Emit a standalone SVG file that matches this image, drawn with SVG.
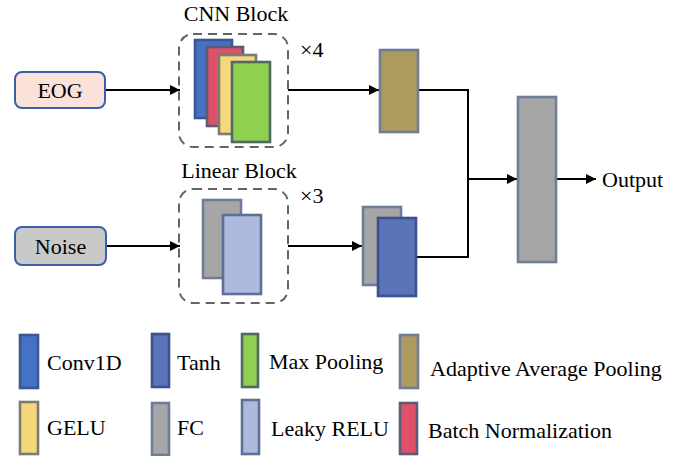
<svg xmlns="http://www.w3.org/2000/svg" width="694" height="456" viewBox="0 0 694 456">
<style>
text{font-family:"Liberation Serif","Times New Roman",serif;font-size:22px;fill:#000}
.blk{stroke:#6f7d9a;stroke-width:2.6}
.dash{fill:none;stroke:#646464;stroke-width:2;stroke-dasharray:9 6}
.ln{fill:none;stroke:#000;stroke-width:2}
.in{fill:#fae2db;stroke:#3a5ea8;stroke-width:2}
.conv{fill:#4472c4;stroke:#3e5590}
.bn{fill:#e05068;stroke:#5d5a7a}
.gelu{fill:#f6d77a;stroke:#7a7a78}
.mp{fill:#90d050;stroke:#4f6a66}
.aap{fill:#ad9a5e;stroke:#6f7d9a}
.fc{fill:#a6a6a6;stroke:#6f7d9a}
.tanh{fill:#5a74ba;stroke:#3c528e}
.lr{fill:#aebadd;stroke:#5f6f96}
</style>
<defs>
<marker id="ah" viewBox="0 0 10 10" refX="10" refY="5" markerWidth="10" markerHeight="10" markerUnits="userSpaceOnUse" orient="auto">
<path d="M0,0 L10,5 L0,10 z" fill="#000"/>
</marker>
</defs>
<g id="connectors">
<line class="ln" x1="105" y1="90" x2="180" y2="90" marker-end="url(#ah)"/>
<line class="ln" x1="288" y1="90" x2="379" y2="90" marker-end="url(#ah)"/>
<line class="ln" x1="106" y1="246" x2="180" y2="246" marker-end="url(#ah)"/>
<line class="ln" x1="288" y1="246" x2="362" y2="246" marker-end="url(#ah)"/>
<polyline class="ln" points="419,90 468,90 468,257 417,257"/>
<line class="ln" x1="468" y1="179" x2="517" y2="179" marker-end="url(#ah)"/>
<line class="ln" x1="557" y1="179" x2="596" y2="179" marker-end="url(#ah)"/>
</g>
<g id="eog">
<rect class="in" x="15" y="72" width="90" height="36" rx="7"/>
<text x="60" y="98" text-anchor="middle">EOG</text>
</g>
<g id="noise">
<rect class="in" x="15" y="227" width="91" height="38" rx="7" style="fill:#c9c9c9"/>
<text x="60.5" y="254" text-anchor="middle">Noise</text>
</g>
<g id="cnn-block">
<text x="236" y="21" text-anchor="middle">CNN Block</text>
<rect class="dash" x="179" y="34" width="109" height="113" rx="14"/>
<rect class="blk conv" x="195" y="40" width="37" height="78"/>
<rect class="blk bn" x="207" y="47" width="36" height="79"/>
<rect class="blk gelu" x="219" y="55" width="37" height="79"/>
<rect class="blk mp" x="232" y="62" width="38" height="80"/>
<text x="300" y="57">×4</text>
</g>
<g id="linear-block">
<text x="239" y="178" text-anchor="middle">Linear Block</text>
<rect class="dash" x="179" y="189" width="109" height="114" rx="14"/>
<rect class="blk fc" x="203" y="200" width="38" height="78"/>
<rect class="blk lr" x="223" y="215" width="38" height="79"/>
<text x="300" y="203">×3</text>
</g>
<g id="adaptive-pool">
<rect class="blk aap" x="380" y="50" width="38" height="82"/>
</g>
<g id="fc-tanh">
<rect class="blk fc" x="363" y="207" width="38" height="78"/>
<rect class="blk tanh" x="378" y="218" width="38" height="78"/>
</g>
<g id="output-fc">
<rect class="blk fc" x="518" y="97" width="38" height="165"/>
<text x="602" y="187">Output</text>
</g>
<g id="legend">
<rect class="blk conv" x="20" y="335" width="18" height="53"/>
<text x="47" y="370">Conv1D</text>
<rect class="blk gelu" x="20" y="402" width="18" height="52"/>
<text x="47" y="435">GELU</text>
<rect class="blk tanh" x="152" y="334" width="17" height="53"/>
<text x="177" y="370">Tanh</text>
<rect class="blk fc" x="152" y="403" width="17" height="52"/>
<text x="177" y="435">FC</text>
<rect class="blk mp" x="242" y="334" width="16" height="53"/>
<text x="269" y="369">Max Pooling</text>
<rect class="blk lr" x="242" y="400" width="17" height="54"/>
<text x="271" y="436">Leaky RELU</text>
<rect class="blk aap" x="400" y="335" width="18" height="53"/>
<text x="430" y="376">Adaptive Average Pooling</text>
<rect class="blk bn" x="400" y="403" width="17" height="51"/>
<text x="428" y="438">Batch Normalization</text>
</g>
</svg>
